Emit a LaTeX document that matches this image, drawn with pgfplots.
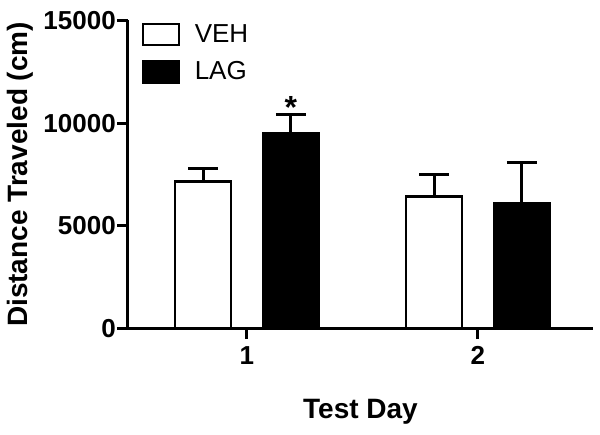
\documentclass[border=0pt]{standalone}
\usepackage{fontspec}
\setmainfont{Liberation Sans}
\usepackage{pgfplots}
\pgfplotsset{compat=1.18}

\begin{document}
\begin{tikzpicture}
\begin{axis}[
  scale only axis, width=348.75pt, height=231pt,
  xmin=0.485, xmax=2.498, ymin=0, ymax=15000,
  axis lines*=left,
  axis line style={line width=2.25pt, black},
  xtick={1,2}, ytick={0,5000,10000,15000},
  tick align=outside, major tick length=8pt,
  tick style={line width=2.25pt, black},
  /pgf/number format/assume math mode=true,
  /pgf/number format/1000 sep={},
  scaled y ticks=false,
  xticklabel={\pgfmathprintnumber{\tick}},
  yticklabel={\pgfmathprintnumber{\tick}},
  tick label style={font=\fontsize{19.5}{21}\selectfont\bfseries},
  yticklabel style={inner sep=1pt},
  xticklabel style={yshift=-2pt},
  xlabel={Test Day},
  ylabel={Distance Traveled (cm)},
  label style={font=\fontsize{21}{24}\selectfont\bfseries},
  xlabel style={at={(axis description cs:0.5,-0.27)}, anchor=center},
  ylabel style={at={(axis description cs:-0.232,0.5)}, anchor=center},
  legend style={at={(axis description cs:0.02,1.005)}, anchor=north west,
    draw=none, fill=none, font=\fontsize{19.5}{22}\selectfont,
    row sep=9pt, /tikz/every even column/.append style={column sep=4pt}},
  legend cell align=left,
  legend image code/.code={\draw[#1, line width=1.9pt] (0pt,-8pt) rectangle (27pt,8pt); \path (36pt,0pt);},
]
\addplot[ybar, bar width=0.242, bar shift=0pt, draw=black, fill=white, line width=1.9pt,
  error bars/.cd, y dir=plus, y explicit,
  error bar style={line width=2.25pt, black},
  error mark options={rotate=90, line width=2.25pt, mark size=11.25pt, black}]
  coordinates {(0.81,7150) +- (0,630) (1.81,6420) +- (0,1070)};
\addlegendentry{VEH}
\addplot[ybar, bar width=0.242, bar shift=0pt, draw=black, fill=black, line width=1.9pt,
  error bars/.cd, y dir=plus, y explicit,
  error bar style={line width=2.25pt, black},
  error mark options={rotate=90, line width=2.25pt, mark size=11.25pt, black}]
  coordinates {(1.19,9520) +- (0,910) (2.19,6100) +- (0,1980)};
\addlegendentry{LAG}
\node[anchor=south, inner sep=0pt, font=\fontsize{24}{24}\selectfont\bfseries] at (axis cs:1.19,10200) {*};
\coordinate (sw) at (rel axis cs:0,0);
\end{axis}
\pgfresetboundingbox
\path[use as bounding box] (sw) ++(-96pt,-79.9pt) rectangle ++(450pt,326.25pt);
\end{tikzpicture}
\end{document}
